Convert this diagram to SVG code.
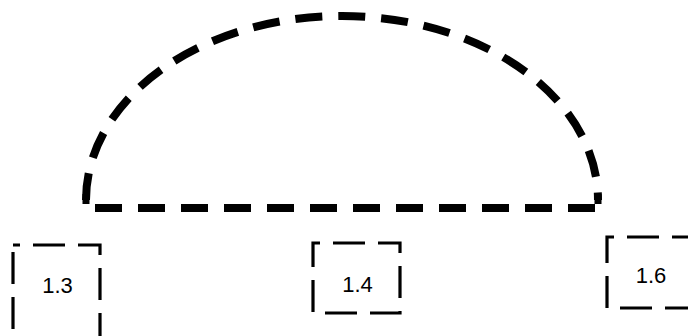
<svg xmlns="http://www.w3.org/2000/svg" width="688" height="336" viewBox="0 0 688 336">
<style>
.box{fill:none;stroke:#000;stroke-width:3.2;stroke-dasharray:32 13}
.dome{fill:none;stroke:#000;stroke-width:8;stroke-dasharray:27 16}
.lbl{font-family:"Liberation Sans",Arial,sans-serif;font-size:22px;fill:#000;text-anchor:middle}
</style>
<rect width="688" height="336" fill="#fff"/>
<g id="dome">
<path class="dome" d="M86 200 A256 184 0 0 1 598 200"/>
<path class="dome" d="M95 208 H602"/>
<path d="M86 194 V204 M598 194 V204" stroke="#000" stroke-width="7" fill="none"/>
</g>
<g id="n13">
<rect class="box" x="13" y="245" width="87" height="100" stroke-dashoffset="25"/>
<text class="lbl" x="57.5" y="293">1.3</text>
</g>
<g id="n14">
<rect class="box" x="313" y="243" width="87" height="70" stroke-dashoffset="25"/>
<text class="lbl" x="357.5" y="292">1.4</text>
</g>
<g id="n16">
<rect class="box" x="607" y="237" width="87" height="71" stroke-dashoffset="25"/>
<text class="lbl" x="651" y="283">1.6</text>
</g>
<g id="connectors"></g>
</svg>
